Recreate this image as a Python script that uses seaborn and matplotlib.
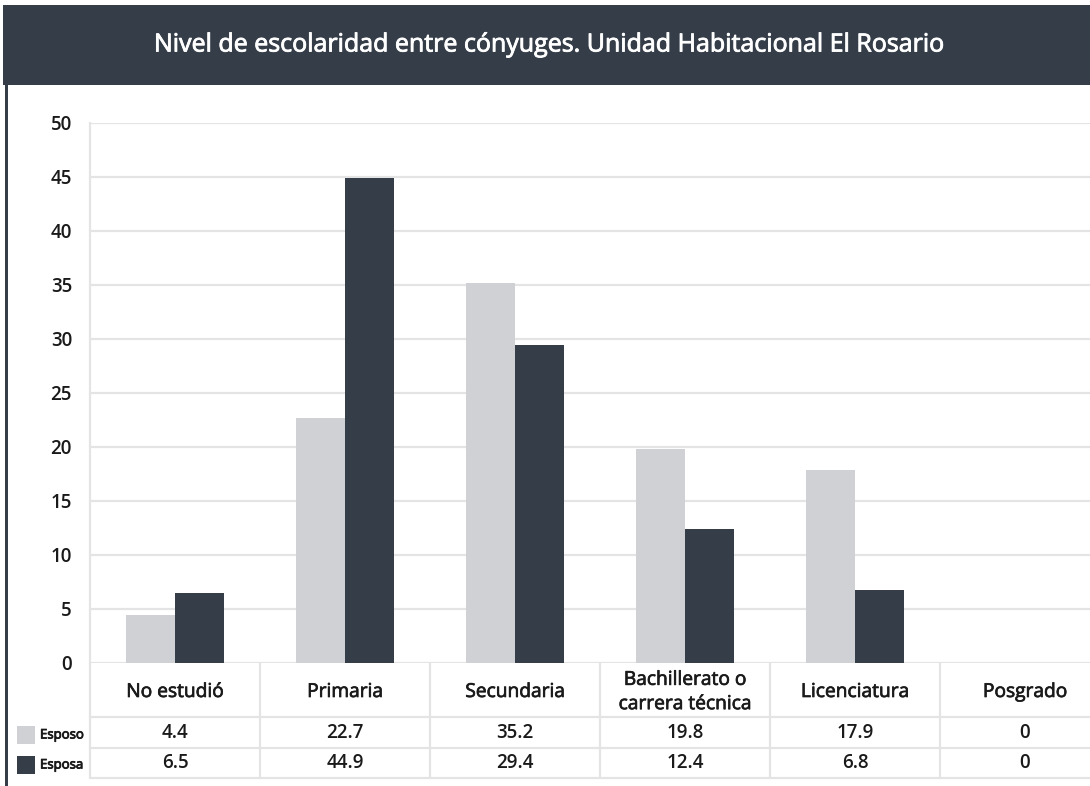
import matplotlib
matplotlib.use("Agg")
import matplotlib.pyplot as plt
import matplotlib.transforms as mtransforms
import matplotlib.patheffects as pe
from matplotlib.patches import Rectangle
import pandas as pd
import seaborn as sns

# Data
categorias = ["No estudió", "Primaria", "Secundaria",
              "Bachillerato o\ncarrera técnica", "Licenciatura", "Posgrado"]
esposo = [4.4, 22.7, 35.2, 19.8, 17.9, 0]
esposa = [6.5, 44.9, 29.4, 12.4, 6.8, 0]
series = ["Esposo", "Esposa"]
y_ticks = [0, 5, 10, 15, 20, 25, 30, 35, 40, 45, 50]
titulo = "Nivel de escolaridad entre cónyuges. Unidad Habitacional El Rosario"

OSCURO = "#343d48"
CLARO = "#d0d1d5"
REJILLA = "#e4e4e4"
TEXTO = "#1a1a1a"

df = pd.DataFrame({
    "categoria": categorias * 2,
    "conyuge": [series[0]] * len(categorias) + [series[1]] * len(categorias),
    "valor": esposo + esposa,
})

sns.set_theme(style="white")
plt.rcParams["font.family"] = ["Open Sans", "DejaVu Sans"]

W, H = 1090, 786
fig = plt.figure(figsize=(W / 100, H / 100), dpi=100)

def fx(px):
    return px / W

def fy(py):
    return 1 - py / H

# slightly heavier strokes for regular-weight text
medio = [pe.withStroke(linewidth=0.5, foreground=TEXTO)]
medio_blanco = [pe.withStroke(linewidth=0.6, foreground="white")]

# Plot area: columns are 170 px wide, last one runs past the right edge
left_px, right_px = 90, 90 + 6 * 170
top_px, bottom_px = 123, 663
ax = fig.add_axes([fx(left_px), fy(bottom_px), (right_px - left_px) / W,
                   (bottom_px - top_px) / H])

sns.barplot(data=df, x="categoria", y="valor", hue="conyuge",
            order=categorias, hue_order=series,
            palette=[CLARO, OSCURO], width=0.576, gap=0,
            saturation=1, legend=False, ax=ax, zorder=3, linewidth=0)

ax.set_xlim(-0.5, len(categorias) - 0.5)
ax.set_ylim(0, 50)
ax.set_yticks(y_ticks)
ax.set_yticklabels([str(t) for t in y_ticks], fontsize=13.5, color=TEXTO,
                   fontweight="semibold")
ax.tick_params(axis="y", length=0, pad=13)
ax.set_xticks([])
ax.set_xlabel("")
ax.set_ylabel("")
ax.grid(axis="y", color=REJILLA, linewidth=1.6, zorder=0)
for s in ["top", "right", "bottom"]:
    ax.spines[s].set_visible(False)
ax.spines["left"].set_color(REJILLA)
ax.spines["left"].set_linewidth(1.6)

# Data table below the bars
tr = mtransforms.blended_transform_factory(ax.transData, fig.transFigure)
table_top, row1, row2, table_bot = 663, 717, 748, 778
for yy in [row1, row2, table_bot]:
    ax.plot([-0.5, len(categorias) - 0.5], [fy(yy), fy(yy)], transform=tr,
            color=REJILLA, linewidth=1.6, clip_on=False, zorder=1)
for i in range(len(categorias) + 1):
    ax.plot([i - 0.5, i - 0.5], [fy(table_top), fy(table_bot)], transform=tr,
            color=REJILLA, linewidth=1.6, clip_on=False, zorder=1)

for i, cat in enumerate(categorias):
    ax.text(i, fy(692), cat, transform=tr, ha="center", va="center",
            fontsize=13.8, color=TEXTO, linespacing=1.45, path_effects=medio)
    ax.text(i, fy(733), f"{esposo[i]:g}", transform=tr, ha="center",
            va="center", fontsize=13.5, color=TEXTO, fontweight="semibold")
    ax.text(i, fy(763), f"{esposa[i]:g}", transform=tr, ha="center",
            va="center", fontsize=13.5, color=TEXTO, fontweight="semibold")

# Legend keys at the left of the value rows
for yc, col, lab in [(735, CLARO, series[0]), (765, OSCURO, series[1])]:
    fig.patches.append(Rectangle((fx(17), fy(yc + 9)), fx(18), 18 / H,
                                 transform=fig.transFigure, facecolor=col,
                                 edgecolor="none"))
    fig.text(fx(40), fy(yc), lab, ha="left", va="center", fontsize=9.5,
             color=TEXTO, path_effects=[pe.withStroke(linewidth=0.6,
                                                      foreground=TEXTO)])

# Title banner and left frame
fig.patches.append(Rectangle((fx(3), fy(85)), 1, 80 / H,
                             transform=fig.transFigure, facecolor=OSCURO,
                             edgecolor="none"))
fig.patches.append(Rectangle((fx(5), 0), fx(3), fy(85),
                             transform=fig.transFigure, facecolor=OSCURO,
                             edgecolor="none"))
fig.text(fx(549), fy(45), titulo, ha="center", va="center", fontsize=18,
         color="white", path_effects=medio_blanco)

fig.savefig("out.png", dpi=100)
